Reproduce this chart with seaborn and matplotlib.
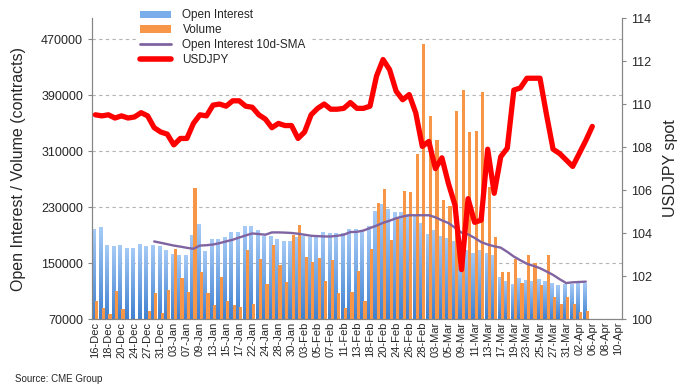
import numpy as np
import pandas as pd
import matplotlib
matplotlib.use('Agg')
import matplotlib.pyplot as plt
import seaborn as sns
from matplotlib.patches import Patch
from matplotlib.lines import Line2D
from matplotlib.colors import LinearSegmentedColormap, to_rgba

# categorias (dias habiles)
dates = ['16-Dec', '17-Dec', '18-Dec', '19-Dec', '20-Dec', '23-Dec', '24-Dec', '26-Dec', '27-Dec', '30-Dec', '31-Dec',
         '02-Jan', '03-Jan', '06-Jan', '07-Jan', '08-Jan', '09-Jan', '10-Jan', '13-Jan', '14-Jan', '15-Jan', '16-Jan',
         '17-Jan', '21-Jan', '22-Jan', '23-Jan', '24-Jan', '27-Jan', '28-Jan', '29-Jan', '30-Jan', '31-Jan',
         '03-Feb', '04-Feb', '05-Feb', '06-Feb', '07-Feb', '10-Feb', '11-Feb', '12-Feb', '13-Feb', '14-Feb',
         '18-Feb', '19-Feb', '20-Feb', '21-Feb', '24-Feb', '25-Feb', '26-Feb', '27-Feb', '28-Feb',
         '02-Mar', '03-Mar', '04-Mar', '05-Mar', '06-Mar', '09-Mar', '10-Mar', '11-Mar', '12-Mar', '13-Mar',
         '16-Mar', '17-Mar', '18-Mar', '19-Mar', '20-Mar', '23-Mar', '24-Mar', '25-Mar', '26-Mar', '27-Mar',
         '30-Mar', '31-Mar', '01-Apr', '02-Apr', '03-Apr', '06-Apr', '07-Apr', '08-Apr', '09-Apr', '10-Apr']

open_interest = [199000, 202000, 176000, 174700, 176000, 171800, 171800, 177500, 174700, 176000,
                 174700, 169000, 163200, 161800, 161800, 190500, 206200, 167500, 184700, 184700,
                 187600, 194800, 194800, 203400, 203400, 197600, 189000, 189000, 184700, 181900,
                 181900, 187600, 189000, 187600, 187600, 194800, 193300, 193300, 193300, 199100,
                 199100, 197600, 203400, 224900, 234800, 227600, 223400, 223400, 220600, 219200,
                 207600, 191900, 197600, 189000, 185700, 181900, 158000, 168000, 164000, 168000,
                 165000, 161300, 130000, 125000, 120000, 128000, 126000, 125000, 127400, 125000,
                 122000, 118800, 120000, 120000, 122000, 122000,
                 np.nan, np.nan, np.nan, np.nan, np.nan]

volume = [95800, 85800, 77200, 110000, 84300, 55000, 50000, 60000, 81500, 107300,
          78200, 111600, 170400, 128800, 108700, 257900, 137400, 107300, 90000, 130000,
          95800, 90000, 87200, 169000, 91500, 156000, 120200, 176100, 147400, 123100,
          190500, 204800, 158900, 151700, 157500, 124500, 154600, 106800, 86200, 108700,
          138800, 95800, 170400, 236200, 256500, 183300, 216300, 253600, 252200, 305200,
          463000, 359700, 325200, 240700, 231000, 367300, 397000, 336700, 338600, 393700,
          258400, 187600, 136700, 136700, 155500, 122000, 161800, 149900, 118800, 161800,
          101100, 91500, 101100, 91500, 80000, 81500,
          np.nan, np.nan, np.nan, np.nan, np.nan]

oi_sma10 = [np.nan] * 9 + [
    180900, 179000, 177000, 175000, 173500, 171800, 170400, 175000, 175500, 176500,
    178500, 181000, 183300, 186500, 189500, 192300, 191500, 190500, 193800, 193800,
    193500, 193000, 191900, 190500, 189000, 188500, 188000, 188000, 189000, 190500,
    194300, 194600, 196500, 200000, 203500, 207500, 210500, 214000, 216500, 218300,
    218300, 218300, 218300, 215400, 211000, 207200, 200500, 193500, 191000, 186000,
    180000, 176500, 174000, 172000, 166000, 159300, 154000, 149000, 146000, 142700,
    138000, 133100, 127000, 121500, 122500, 123000, 123500] + [np.nan] * 5

usdjpy = [109.5, 109.45, 109.5, 109.35, 109.45, 109.35, 109.4, 109.6, 109.45, 108.9,
          108.7, 108.6, 108.1, 108.4, 108.4, 109.1, 109.5, 109.45, 109.95, 110.0,
          109.9, 110.15, 110.15, 109.9, 109.85, 109.5, 109.3, 108.9, 109.1, 109.0,
          109.0, 108.4, 108.7, 109.5, 109.8, 110.0, 109.76, 109.76, 109.8, 110.07,
          109.8, 109.8, 109.9, 111.3, 112.07, 111.6, 110.6, 110.2, 110.44, 109.59,
          108.03, 108.26, 107.0, 107.5, 106.3, 105.3, 102.3, 105.6, 104.5, 104.6,
          107.9, 105.85, 107.55, 107.95, 110.65, 110.75, 111.2, 111.2, 111.2, 109.5,
          107.9, 107.7, 107.4, 107.1, 107.7, 108.3, 108.96,
          np.nan, np.nan, np.nan, np.nan]

n = len(dates)
x = np.arange(n)
azul = '#7AAEEB'
naranja = '#F79646'

sns.set_style('white')
plt.rcParams['font.family'] = ['Liberation Sans', 'DejaVu Sans']

fig, ax = plt.subplots(figsize=(6.87, 3.92), dpi=100)
fig.subplots_adjust(left=0.134, right=0.905, top=0.954, bottom=0.186)

largo = pd.DataFrame({'date': dates * 2,
                      'value': open_interest + volume,
                      'series': ['Open Interest'] * n + ['Volume'] * n})
sns.barplot(data=largo, x='date', y='value', hue='series', order=dates,
            hue_order=['Open Interest', 'Volume'],
            palette={'Open Interest': azul, 'Volume': naranja},
            width=0.97, saturation=1, linewidth=0, edgecolor='none',
            legend=False, ax=ax)

# degradado en las barras azules (estilo Excel), naranjas por encima
cmap_oi = LinearSegmentedColormap.from_list('oi', ['#3F80D0', '#A8CCF7'])
grad = np.linspace(0, 1, 256).reshape(-1, 1)
for p in list(ax.patches):
    h = p.get_height()
    if not np.isfinite(h) or h <= 0:
        continue
    if np.allclose(p.get_facecolor(), to_rgba(azul), atol=0.02):
        x0, w = p.get_x(), p.get_width()
        p.set_facecolor('none')
        p.set_zorder(1.5)
        im = ax.imshow(grad, extent=[x0, x0 + w, 70000, h], origin='lower',
                       aspect='auto', cmap=cmap_oi, zorder=1.5)
        im.set_clip_path(p)
    else:
        p.set_zorder(2.5)
ax.set_xlim(-0.5, n - 0.5)
ax.set_ylim(70000, 500000)

sns.lineplot(x=x, y=oi_sma10, ax=ax, color='#8064A2', lw=1.7, zorder=3)

ax.set_yticks(np.arange(70000, 470001, 80000))
ax.yaxis.grid(True, color='#B3B3B3', linestyle=(0, (3, 3)), lw=0.8)
ax.set_axisbelow(True)
ax.set_xticks(x[::2])
ax.set_xticklabels(dates[::2], rotation=90, fontsize=8)
ax.set_xticks(np.arange(-0.5, n, 1), minor=True)
ax.tick_params(axis='x', which='both', length=3, color='#868686', pad=2)
ax.tick_params(axis='x', which='major', length=0)
ax.tick_params(axis='y', labelsize=9, length=3, color='#868686')
ax.set_xlabel('')
ax.set_ylabel('Open Interest / Volume (contracts)', fontsize=11.5)
ax.yaxis.set_label_coords(-0.125, 0.5)

ax2 = ax.twinx()
sns.lineplot(x=x, y=usdjpy, ax=ax2, color='#FF0000', lw=3.8, zorder=4)
ax2.set_ylim(100, 114)
ax2.set_yticks(np.arange(100, 114.1, 2))
ax2.tick_params(axis='y', labelsize=9, length=3, color='#868686')
ax2.set_ylabel('USDJPY spot', fontsize=11.5, labelpad=8)
ax2.set_xlim(-0.5, n - 0.5)

for a in (ax, ax2):
    a.spines['top'].set_visible(False)
    for s in ('left', 'right', 'bottom'):
        a.spines[s].set_color('#868686')

handles = [Patch(facecolor=azul, edgecolor='none'),
           Patch(facecolor=naranja, edgecolor='none'),
           Line2D([0], [0], color='#8064A2', lw=2),
           Line2D([0], [0], color='#FF0000', lw=4)]
labels = ['Open Interest', 'Volume', 'Open Interest 10d-SMA', 'USDJPY']
leg = fig.legend(handles, labels, loc='upper left', bbox_to_anchor=(0.19, 1.0),
                 fontsize=8.5, frameon=True, facecolor='white', edgecolor='none',
                 framealpha=1, labelspacing=0.25, handlelength=2.6, handleheight=0.6,
                 handletextpad=1.0, borderpad=0.3)

fig.text(0.022, 0.025, 'Source: CME Group', fontsize=7)

plt.savefig('out.png', dpi=100)
